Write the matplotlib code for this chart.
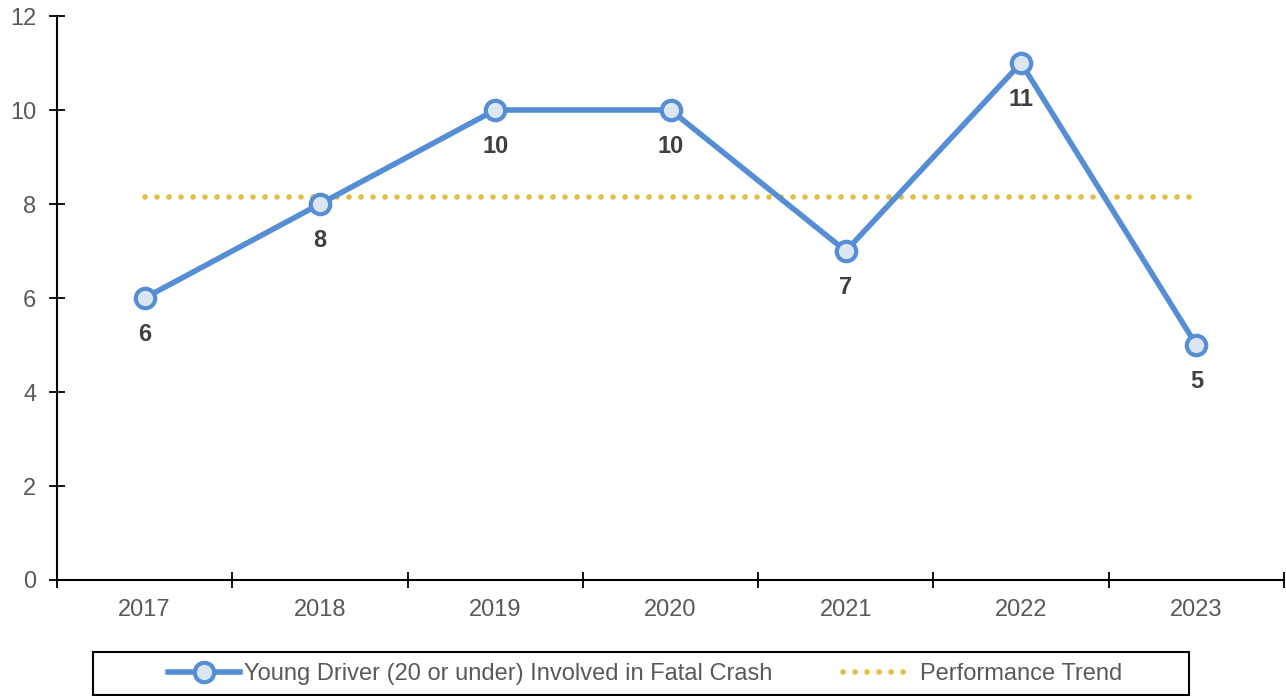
import matplotlib
matplotlib.use("Agg")
import matplotlib.pyplot as plt
from matplotlib.patches import Rectangle
import numpy as np

plt.rcParams['font.family'] = ['Liberation Sans', 'DejaVu Sans']

years = ["2017", "2018", "2019", "2020", "2021", "2022", "2023"]
young_driver = [6, 8, 10, 10, 7, 11, 5]
trend_value = 8.14

line_color = "#558ED5"
face_color = "#DCE6F2"
trend_color = "#E2BC3C"
tick_color = "#595959"
label_color = "#404040"

fig = plt.figure(figsize=(12.86, 6.96), dpi=100)
ax = fig.add_axes([57 / 1286, 1 - 580 / 696, 1227 / 1286, 564 / 696])

x = np.arange(len(years))
ax.plot(x, young_driver, color=line_color, lw=4, marker='o', ms=14,
        mfc=face_color, mec=line_color, mew=3, zorder=3,
        label="Young Driver (20 or under) Involved in Fatal Crash")
ax.plot([x[0], x[-1] - 0.02], [trend_value, trend_value], color=trend_color,
        lw=4, linestyle=(0, (0.01, 2.15)), dash_capstyle='round', zorder=2,
        label="Performance Trend")

for xi, v in zip(x, young_driver):
    ax.annotate(str(v), (xi, v), xytext=(0, -26), textcoords='offset points',
                ha='center', va='center', fontsize=17, fontweight='bold',
                color=label_color)

ax.set_xlim(-0.5, len(years) - 0.5)
ax.set_ylim(0, 12)
ax.set_yticks(range(0, 13, 2))
ax.set_xticks(x)
ax.set_xticklabels(years)
ax.set_xticks(np.arange(-0.5, len(years), 1), minor=True)
ax.tick_params(axis='x', which='major', length=0, pad=14, labelsize=17,
               labelcolor=tick_color)
ax.tick_params(axis='x', which='minor', direction='inout', length=12, width=1.3)
ax.tick_params(axis='y', direction='inout', length=12, width=1.3, pad=9,
               labelsize=17, labelcolor=tick_color)
for s in ['top', 'right']:
    ax.spines[s].set_visible(False)
for s in ['left', 'bottom']:
    ax.spines[s].set_linewidth(1.5)

# legend box drawn separately, entries centered inside it
fig.patches.append(Rectangle((93 / 1286, 1 - 695 / 696), 1096 / 1286, 43 / 696,
                             transform=fig.transFigure, fill=False,
                             edgecolor='black', linewidth=1.5))
leg = fig.legend(loc='center', bbox_to_anchor=(645 / 1286, 1 - 674 / 696),
                 ncol=2, fontsize=17, frameon=False, handlelength=3.05,
                 handletextpad=0.2, columnspacing=3.0)
for t in leg.get_texts():
    t.set_color(tick_color)

fig.savefig("out.png", dpi=100)
